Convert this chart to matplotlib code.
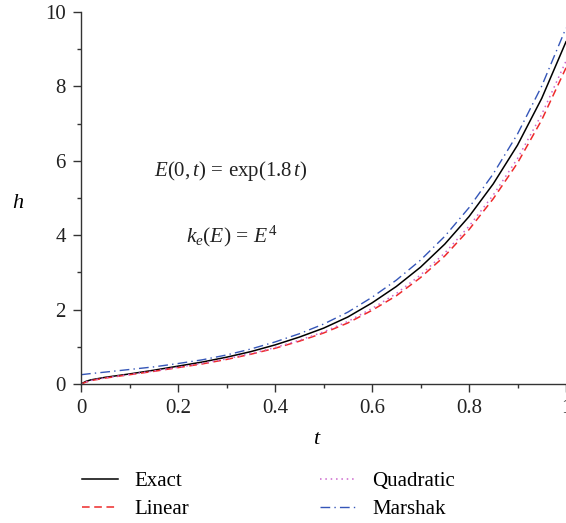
import matplotlib
matplotlib.use("Agg")
import matplotlib.pyplot as plt
import numpy as np
from matplotlib.ticker import MultipleLocator

plt.rcParams['font.family'] = ['Liberation Serif', 'DejaVu Serif']
plt.rcParams['mathtext.fontset'] = 'custom'
plt.rcParams['mathtext.rm'] = 'Liberation Serif'
plt.rcParams['mathtext.it'] = 'Liberation Serif:italic'
plt.rcParams['mathtext.bf'] = 'Liberation Serif:bold'

# data
t = [0.0, 0.01, 0.02, 0.05, 0.1, 0.15, 0.2, 0.25, 0.3, 0.35, 0.4, 0.45,
     0.5, 0.55, 0.6, 0.65, 0.7, 0.75, 0.8, 0.85, 0.9, 0.95, 1.0]
exact = [0.0, 0.07, 0.11, 0.18, 0.27, 0.37, 0.48, 0.59, 0.72, 0.87, 1.05, 1.26,
         1.50, 1.80, 2.18, 2.62, 3.14, 3.76, 4.50, 5.38, 6.42, 7.68, 9.20]
linear = [0.0, 0.05, 0.09, 0.16, 0.25, 0.34, 0.44, 0.54, 0.66, 0.80, 0.96, 1.15,
          1.37, 1.64, 1.98, 2.37, 2.86, 3.44, 4.15, 4.98, 5.94, 7.10, 8.50]
quadratic = [0.0, 0.055, 0.095, 0.165, 0.255, 0.35, 0.45, 0.555, 0.675, 0.815, 0.98, 1.175,
             1.40, 1.68, 2.03, 2.43, 2.93, 3.52, 4.24, 5.08, 6.06, 7.25, 8.68]
marshak = [0.25, 0.265, 0.28, 0.32, 0.39, 0.46, 0.55, 0.65, 0.78, 0.94, 1.13, 1.35,
           1.61, 1.93, 2.33, 2.79, 3.33, 3.97, 4.74, 5.65, 6.72, 8.01, 9.57]

labels = ['Exact', 'Linear', 'Quadratic', 'Marshak']
colors = ['black', '#ee2a2a', '#cc66cc', '#3556b8']

fig = plt.figure(figsize=(5.66, 5.23), dpi=100)
ax = fig.add_axes([81/566, (523-384)/523, 485/566, 372/523])

l1, = ax.plot(t, exact, color=colors[0], lw=1.1, ls='-', label=labels[0])
l2, = ax.plot(t, linear, color=colors[1], lw=1.1, ls=(0, (5, 3)), label=labels[1])
l3, = ax.plot(t, quadratic, color=colors[2], lw=1.1, ls=(0, (1, 2.5)), label=labels[2])
l4, = ax.plot(t, marshak, color=colors[3], lw=1.0, ls=(0, (7, 3, 1, 3)), label=labels[3])

ax.set_xlim(0, 1)
ax.set_ylim(0, 10)
ax.spines['top'].set_visible(False)
ax.spines['right'].set_visible(False)
for s in ['left', 'bottom']:
    ax.spines[s].set_linewidth(1.0)
    ax.spines[s].set_color('#333333')

ax.xaxis.set_minor_locator(MultipleLocator(0.1))
ax.yaxis.set_minor_locator(MultipleLocator(1))
ax.set_xticks([0, 0.2, 0.4, 0.6, 0.8, 1.0])
ax.set_xticklabels(['0', '0.2', '0.4', '0.6', '0.8', '1'])
ax.set_yticks([0, 2, 4, 6, 8, 10])
ax.set_yticklabels(['0', '2', '4', '6', '8', '10'])
ax.tick_params(which='major', direction='out', length=6, width=1.0, labelsize=15,
               color='#333333', labelcolor='#222222', pad=5)
ax.tick_params(which='minor', direction='out', length=3, width=1.0, color='#333333')

fig.text(18/566, 1 - 203/523, r'$h$', fontsize=16, ha='center', va='center')
fig.text(317/566, 1 - 440/523, r'$t$', fontsize=16, ha='center', va='center')

ax.text(0.31, 0.5726, r'$E(0,t)\,=\,\exp(1.8\,t)$', transform=ax.transAxes,
        fontsize=15, ha='center', va='center', color='#222222')
ax.text(0.31, 0.398, r'$k_e(E)\,=\,E^4$', transform=ax.transAxes,
        fontsize=15.5, ha='center', va='center', color='#222222')

fig.legend(handles=[l1, l2, l3, l4], loc='upper left',
           bbox_to_anchor=(74/566, 1 - 463/523), ncol=2, frameon=False,
           fontsize=15, handlelength=1.7, handletextpad=0.8,
           columnspacing=6.3, labelspacing=0.42, borderaxespad=0)

fig.savefig('out.png', dpi=100)
